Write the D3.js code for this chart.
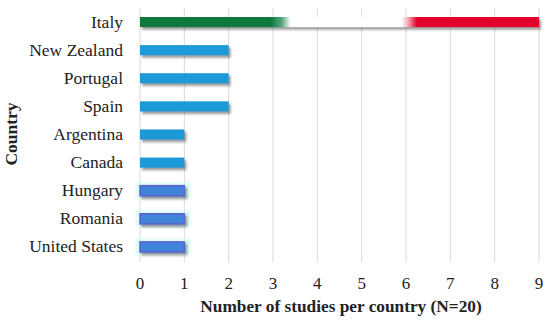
<!DOCTYPE html>
<html>
<head>
<meta charset="utf-8">
<script src="https://cdn.jsdelivr.net/npm/d3@7"></script>
<style>
  body { margin: 0; background: #fff; }
  text { font-family: 'Liberation Serif', serif; fill: #222; }
</style>
</head>
<body>
<svg id="chart" width="550" height="326"></svg>
<script>
const countries = ['Italy', 'New Zealand', 'Portugal', 'Spain', 'Argentina', 'Canada', 'Hungary', 'Romania', 'United States']
const studies = [9, 2, 2, 2, 1, 1, 1, 1, 1]
const xTicks = [0, 1, 2, 3, 4, 5, 6, 7, 8, 9]

const svg = d3.select('#chart')
const x = d3.scaleLinear().domain([0, 9]).range([140, 539])
const y = d3.scaleBand().domain(countries).range([8, 261]).paddingInner(0.64).paddingOuter(0.32)

const defs = svg.append('defs')
defs.append('filter').attr('id', 'shadow')
  .attr('x', '-10%').attr('y', '-50%').attr('width', '120%').attr('height', '250%')
  .append('feDropShadow')
  .attr('dx', 2).attr('dy', 2.5).attr('stdDeviation', 1.3)
  .attr('flood-color', '#555').attr('flood-opacity', 0.6)

defs.append('filter').attr('id', 'glow')
  .attr('x', '-20%').attr('y', '-80%').attr('width', '140%').attr('height', '260%')
  .append('feGaussianBlur').attr('stdDeviation', 1.5)

const flag = defs.append('linearGradient').attr('id', 'flag')
  .attr('gradientUnits', 'userSpaceOnUse')
  .attr('x1', x(0)).attr('x2', x(9)).attr('y1', 0).attr('y2', 0)
const flagStops = [
  [0, '#0b7a3b'], [2.95, '#0b7a3b'], [3.2, '#5aa57c'], [3.4, '#ffffff'],
  [5.9, '#ffffff'], [6.05, '#f4a6b2'], [6.25, '#e2002b'], [9, '#e2002b']
]
flagStops.forEach(s => {
  flag.append('stop').attr('offset', s[0] / 9).attr('stop-color', s[1])
})

// grid
svg.append('g').selectAll('line').data(xTicks).join('line')
  .attr('x1', d => x(d)).attr('x2', d => x(d))
  .attr('y1', 8).attr('y2', 262)
  .attr('stroke', '#d9d9d9').attr('stroke-width', 1)

// tick labels
svg.append('g').selectAll('text').data(xTicks).join('text')
  .attr('x', d => x(d)).attr('y', 289)
  .attr('text-anchor', 'middle')
  .style('font-size', '17px')
  .text(d => d)

// category labels
svg.append('g').selectAll('text').data(countries).join('text')
  .attr('x', 123).attr('y', d => y(d) + y.bandwidth() / 2 + 5.5)
  .attr('text-anchor', 'end')
  .style('font-size', '17.5px')
  .text(d => d)

const data = countries.map((c, i) => ({ country: c, value: studies[i] }))
const glowed = ['Hungary', 'Romania', 'United States']

// cyan glow behind the last three bars
svg.append('g').selectAll('rect').data(data.filter(d => glowed.includes(d.country))).join('rect')
  .attr('x', x(0) - 4).attr('y', d => y(d.country) - 3)
  .attr('width', d => x(d.value) - x(0) + 10).attr('height', y.bandwidth() + 6)
  .attr('fill', '#d6fbf6')
  .attr('filter', 'url(#glow)')

svg.append('g').selectAll('rect').data(data).join('rect')
  .attr('x', x(0)).attr('y', d => y(d.country))
  .attr('width', d => x(d.value) - x(0)).attr('height', y.bandwidth())
  .attr('fill', d => d.country === 'Italy' ? 'url(#flag)' : glowed.includes(d.country) ? '#3f84da' : '#1e9ad8')
  .attr('stroke', d => glowed.includes(d.country) ? '#6060d0' : 'none')
  .attr('stroke-width', 1.5)
  .attr('filter', 'url(#shadow)')

// axis titles
svg.append('text')
  .attr('x', 341).attr('y', 312)
  .attr('text-anchor', 'middle')
  .style('font-size', '17.3px').style('font-weight', 'bold')
  .text('Number of studies per country (N=20)')

svg.append('text')
  .attr('transform', 'translate(17,134) rotate(-90)')
  .attr('text-anchor', 'middle')
  .style('font-size', '17.5px').style('font-weight', 'bold')
  .text('Country')
</script>
</body>
</html>
